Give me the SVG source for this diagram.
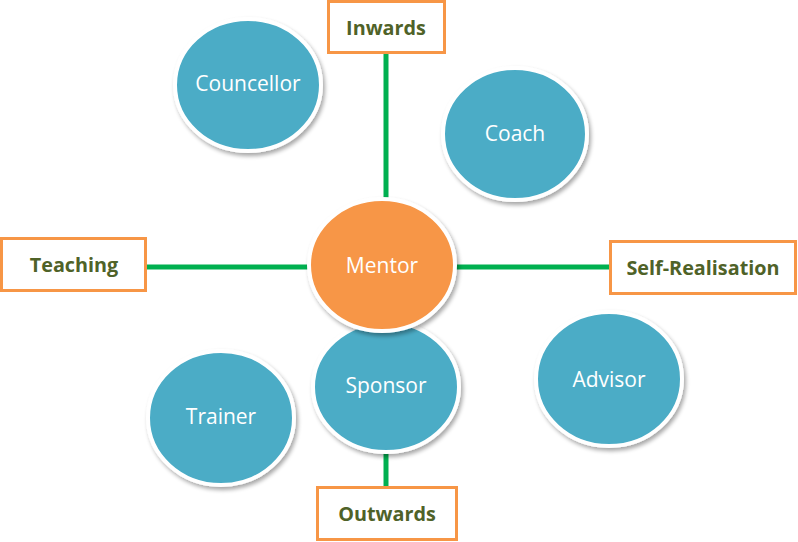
<svg xmlns="http://www.w3.org/2000/svg" width="798" height="542" viewBox="0 0 798 542">
<defs>
<filter id="sh" x="-20%" y="-20%" width="140%" height="140%">
<feGaussianBlur in="SourceAlpha" stdDeviation="2"/>
<feOffset dx="2" dy="3" result="b"/>
<feComponentTransfer><feFuncA type="linear" slope="0.35"/></feComponentTransfer>
<feMerge><feMergeNode/><feMergeNode in="SourceGraphic"/></feMerge>
</filter>
</defs>
<style>
.c{fill:#4BACC6;stroke:#fff;stroke-width:4;filter:url(#sh)}
.m{fill:#F79646;stroke:#fff;stroke-width:4;filter:url(#sh)}
.t{font-family:"Open Sans","Liberation Sans",sans-serif;font-size:21px;fill:#fff;text-anchor:middle}
.b{fill:#fff;stroke:#F79646;stroke-width:3}
.l{font-family:"Open Sans","Liberation Sans",sans-serif;font-size:19.8px;font-weight:bold;fill:#4F6228;text-anchor:middle}
.e{stroke:#00B050;stroke-width:5;fill:none}
</style>
<rect width="798" height="542" fill="#fff"/>
<g id="connectors">
<line class="e" x1="386" y1="53" x2="386" y2="200"/>
<line class="e" x1="146" y1="267" x2="312" y2="267"/>
<line class="e" x1="454" y1="267" x2="611" y2="267"/>
<line class="e" x1="386" y1="450" x2="386" y2="488"/>
</g>
<g id="councellor"><ellipse class="c" cx="248" cy="85" rx="73" ry="66"/><text class="t" x="248" y="91">Councellor</text></g>
<g id="coach"><ellipse class="c" cx="515" cy="134" rx="72" ry="66"/><text class="t" x="515" y="141">Coach</text></g>
<g id="sponsor"><ellipse class="c" cx="386" cy="387" rx="73" ry="65"/><text class="t" x="386" y="393">Sponsor</text></g>
<g id="trainer"><ellipse class="c" cx="221" cy="418" rx="73" ry="67"/><text class="t" x="221" y="424">Trainer</text></g>
<g id="advisor"><ellipse class="c" cx="609" cy="379" rx="73" ry="67"/><text class="t" x="609" y="387">Advisor</text></g>
<g id="mentor"><ellipse class="m" cx="382" cy="265" rx="73" ry="66"/><text class="t" x="382" y="273">Mentor</text></g>
<g id="inwards"><rect class="b" x="328.5" y="1.5" width="116" height="51"/><text class="l" x="386" y="35">Inwards</text></g>
<g id="teaching"><rect class="b" x="1.5" y="238.5" width="144" height="52"/><text class="l" x="74" y="272">Teaching</text></g>
<g id="selfrealisation"><rect class="b" x="610.5" y="241.5" width="185" height="52"/><text class="l" x="703" y="275">Self-Realisation</text></g>
<g id="outwards"><rect class="b" x="317.5" y="487.5" width="139" height="52"/><text class="l" x="387" y="521">Outwards</text></g>
</svg>
